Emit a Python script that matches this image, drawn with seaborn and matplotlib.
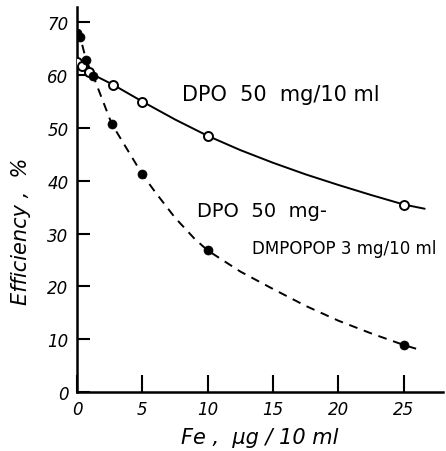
import matplotlib
matplotlib.use("Agg")
import matplotlib.pyplot as plt
import seaborn as sns

# Measured efficiencies (markers)
dpo_fe = [0, 0.4, 0.9, 2.75, 5, 10, 25]
dpo_eff = [62.4, 61.8, 60.5, 58.2, 55.0, 48.5, 35.5]
mix_fe = [0, 0.25, 0.7, 1.25, 2.65, 5, 10, 25]
mix_eff = [68.0, 67.2, 62.8, 59.8, 50.8, 41.2, 26.8, 8.9]

# Hand-drawn trend curves through the measurements
dpo_curve_fe = [0, 0.9, 2.75, 5, 7.5, 10, 12.5, 15, 17.5, 20, 22.5, 25, 26.6]
dpo_curve_eff = [62.4, 60.5, 58.2, 55.0, 51.6, 48.5, 45.8, 43.4, 41.2, 39.2, 37.3, 35.5, 34.7]
mix_curve_fe = [0, 0.25, 0.7, 1.25, 2.65, 5, 6, 7.5, 9, 10, 12.5, 15, 17.5, 20, 22.5, 25, 26.2]
mix_curve_eff = [68.5, 67.2, 62.8, 59.8, 50.8, 41.2, 37.8, 33.0, 29.0, 26.8, 22.8, 19.5, 16.3, 13.5, 11.1, 8.9, 8.0]

x_ticks = [0, 5, 10, 15, 20, 25]
y_ticks = [0, 10, 20, 30, 40, 50, 60, 70]

sns.set_style("ticks")
plt.rcParams["font.family"] = ["DejaVu Sans"]
plt.rcParams["text.color"] = "black"
plt.rcParams["axes.labelcolor"] = "black"
plt.rcParams["xtick.color"] = "black"
plt.rcParams["ytick.color"] = "black"
plt.rcParams["axes.edgecolor"] = "black"

fig = plt.figure(figsize=(4.46, 4.52), dpi=100)
ax = fig.add_axes([77 / 446, 59 / 452, 366 / 446, 385 / 452])

sns.lineplot(x=dpo_curve_fe, y=dpo_curve_eff, ax=ax, color="black", lw=1.4,
             sort=False, estimator=None)
sns.lineplot(x=mix_curve_fe, y=mix_curve_eff, ax=ax, color="black", lw=1.4,
             sort=False, estimator=None, linestyle=(0, (4.5, 3.5)))

sns.scatterplot(x=dpo_fe, y=dpo_eff, ax=ax, marker="o", s=42,
                facecolor="white", edgecolor="black", linewidth=1.4, zorder=5)
sns.scatterplot(x=mix_fe, y=mix_eff, ax=ax, marker="o", s=42,
                color="black", edgecolor="black", linewidth=0.5, zorder=6)

ax.set_xlim(0, 28)
ax.set_ylim(0, 72.9)
ax.set_xticks(x_ticks)
ax.set_yticks(y_ticks)
ax.set_xticklabels([str(v) for v in x_ticks], fontsize=12, style="italic")
ax.set_yticklabels([str(v) for v in y_ticks], fontsize=12, style="italic")
ax.tick_params(axis="x", direction="in", length=12, width=1.5, pad=6)
ax.tick_params(axis="y", direction="in", length=9, width=1.5, pad=6)
sns.despine(ax=ax)
for side in ("left", "bottom"):
    ax.spines[side].set_linewidth(1.8)

ax.set_xlabel("Fe ,  µg / 10 ml", fontsize=15, style="italic", labelpad=6)
ax.set_ylabel("Efficiency ,  %", fontsize=15, style="italic")
ax.yaxis.set_label_coords(-0.125, 0.42)

ax.text(8.0, 56.5, "DPO  50  mg/10 ml", fontsize=15, va="center", ha="left")
ax.text(9.2, 34.3, "DPO  50  mg-", fontsize=14, va="center", ha="left")
ax.text(13.4, 27.2, "DMPOPOP 3 mg/10 ml", fontsize=12, va="center", ha="left")

fig.savefig("out.png", dpi=100)
